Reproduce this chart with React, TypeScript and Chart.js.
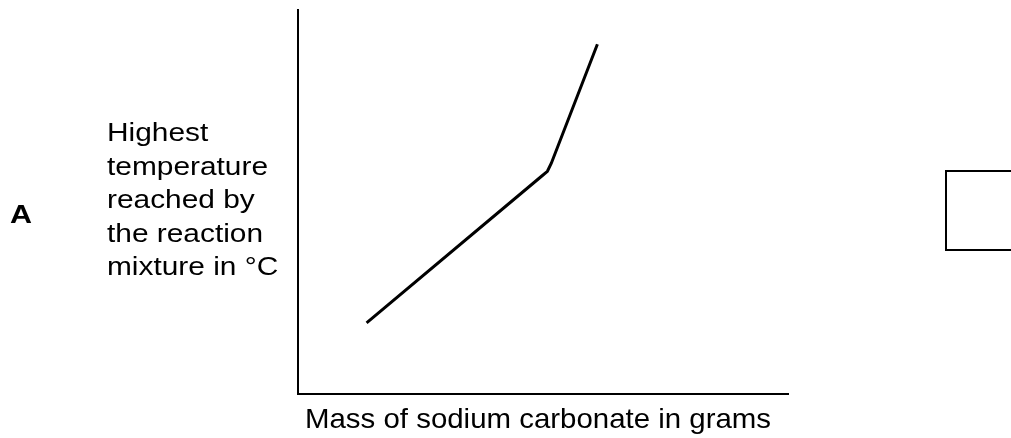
import React, { useEffect, useRef } from "react";
import { Chart, registerables } from "chart.js";

Chart.register(...registerables);

// Data (arbitrary units: the axes carry no ticks)
const massValues = [1.4, 4.97, 5.09, 5.17, 6.11];
const tempValues = [1.85, 5.67, 5.8, 6.01, 9.11];
const yLabelLines = ["Highest", "temperature", "reached by", "the reaction", "mixture in °C"];
const xTitle = "Mass of sodium carbonate in grams";
const optionLabel = "A";

const FONT = "'Liberation Sans', Arial, Helvetica, sans-serif";

export default function App() {
  const ref = useRef<HTMLCanvasElement>(null);

  useEffect(() => {
    const canvas = ref.current;
    if (!canvas) return;

    const annotations = {
      id: "annotations",
      afterDraw(chart: any) {
        const ctx: CanvasRenderingContext2D = chart.ctx;
        ctx.save();
        ctx.fillStyle = "#000";
        ctx.strokeStyle = "#000";
        ctx.textAlign = "left";
        ctx.textBaseline = "alphabetic";
        const drawStretched = (text: string, x: number, y: number, sx: number) => {
          ctx.save();
          ctx.translate(x, y);
          ctx.scale(sx, 1);
          ctx.fillText(text, 0, 0);
          ctx.restore();
        };

        // Option letter
        ctx.font = `bold 26px ${FONT}`;
        const aSx = 22 / ctx.measureText(optionLabel).width;
        drawStretched(optionLabel, 10, 223, aSx);

        // Y-axis description (horizontal multi-line text)
        ctx.font = `26px ${FONT}`;
        const ySx = 161 / ctx.measureText("temperature").width;
        const top = 141;
        const pitch = 33.6;
        yLabelLines.forEach((line, i) => drawStretched(line, 107, top + i * pitch, ySx));

        // X-axis title
        ctx.font = `28px ${FONT}`;
        const xSx = 466 / ctx.measureText(xTitle).width;
        drawStretched(xTitle, 305, 428, xSx);

        // Answer box (partly off the right edge)
        ctx.lineWidth = 2;
        ctx.strokeRect(946, 171, 100, 79);
        ctx.restore();
      },
    };

    const chart = new Chart(canvas, {
      type: "line",
      data: {
        datasets: [
          {
            data: massValues.map((m, i) => ({ x: m, y: tempValues[i] })),
            borderColor: "#000",
            borderWidth: 3,
            pointRadius: 0,
            tension: 0,
            fill: false,
          },
        ],
      },
      options: {
        responsive: false,
        animation: false,
        devicePixelRatio: 1,
        layout: { padding: { left: 298, top: 10, right: 223, bottom: 44 } },
        plugins: { legend: { display: false }, tooltip: { enabled: false } },
        scales: {
          x: {
            type: "linear",
            min: 0,
            max: 10,
            grid: { display: false, drawTicks: false },
            ticks: { display: false },
            border: { display: true, color: "#000", width: 2 },
          },
          y: {
            type: "linear",
            min: 0,
            max: 10,
            grid: { display: false, drawTicks: false },
            ticks: { display: false },
            border: { display: true, color: "#000", width: 2 },
          },
        },
      },
      plugins: [annotations],
    });

    return () => chart.destroy();
  }, []);

  return (
    <div style={{ position: "fixed", left: 0, top: 0, width: 1011, height: 438, background: "#fff" }}>
      <canvas ref={ref} width={1011} height={438} style={{ display: "block" }} />
    </div>
  );
}
